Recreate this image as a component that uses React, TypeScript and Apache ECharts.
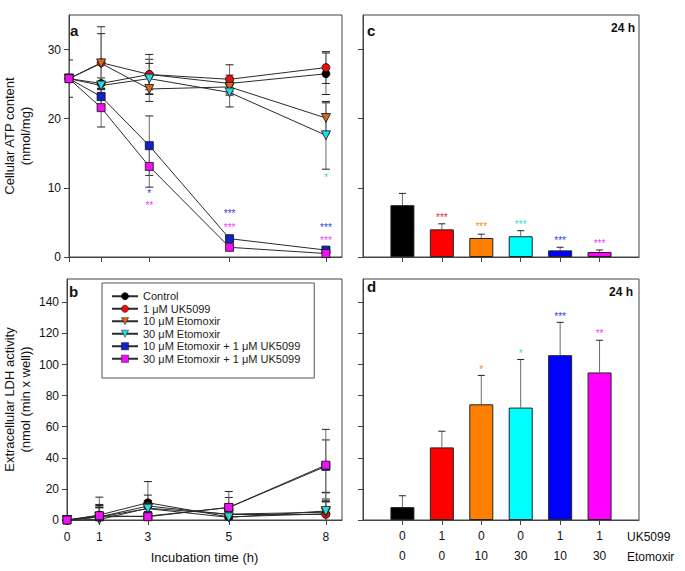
import React, { useEffect, useRef } from 'react';
import * as echarts from 'echarts';

const FONT = '"Liberation Sans", Arial, Helvetica, sans-serif';

// Time axis (h): plotted positions and their tick labels
const timePos = [0, 1, 2.5, 5, 8];
const timeLabels = ['0', '1', '3', '5', '8'];

const seriesNames = [
  'Control',
  '1 μM UK5099',
  '10 μM Etomoxir',
  '30 μM Etomoxir',
  '10 μM Etomoxir + 1 μM UK5099',
  '30 μM Etomoxir + 1 μM UK5099',
];
const markerColors = ['#000000', '#e8100c', '#d2691e', '#22dbe8', '#1022c8', '#f010f0'];
const barColors = ['#000000', '#ff0000', '#ff8000', '#00ffff', '#0000ff', '#ff00ff'];
const starColors = ['#000000', '#e03030', '#f09030', '#30e0e0', '#3040e0', '#f040f0'];
const symbols = ['circle', 'circle', 'triangle', 'triangle', 'rect', 'rect'];
const symbolRotates = [0, 0, 180, 180, 0, 0];
const symbolSizes = [8, 8, 9, 9, 8, 8];

// Panel a: cellular ATP content (nmol/mg)
const atpControl = [25.8, 25.1, 26.4, 25.1, 26.5];
const atpUK = [25.8, 28.1, 26.4, 25.7, 27.4];
const atpEto10 = [25.8, 28.0, 24.3, 24.6, 20.1];
const atpEto30 = [25.8, 24.8, 25.8, 23.8, 17.6];
const atpEto10UK = [25.8, 23.2, 16.1, 2.65, 1.0];
const atpEto30UK = [25.8, 21.6, 13.1, 1.4, 0.5];
const atpControlErr = [2.7, 0.8, 2.2, 1.2, 3.0];
const atpUKErr = [0, 5.2, 2.9, 2.1, 2.3];
const atpEto10Err = [0, 4.3, 1.8, 1.2, 2.2];
const atpEto30Err = [0, 0.6, 2.2, 2.1, 4.9];
const atpEto10UKErr = [0, 1.2, 4.3, 0.3, 0.3];
const atpEto30UKErr = [0, 2.8, 3.0, 0.3, 0.3];

// Panel b: extracellular LDH activity
const ldhControl = [0, 3.2, 11.1, 2.0, 4.0];
const ldhUK = [0, 2.0, 9.0, 3.5, 3.6];
const ldhEto10 = [0, 0.3, 7.6, 3.8, 5.0];
const ldhEto30 = [0, 2.0, 7.3, 1.7, 5.8];
const ldhEto10UK = [0, 2.0, 2.5, 8.0, 34.5];
const ldhEto30UK = [0, 2.8, 2.1, 8.1, 35.3];
const ldhControlErr = [0, 11.5, 13.6, 2.0, 9.5];
const ldhUKErr = [0, 8, 7, 2, 8];
const ldhEto10Err = [0, 9, 5, 3, 7];
const ldhEto30Err = [0, 7, 4, 1.5, 12];
const ldhEto10UKErr = [0, 6, 3, 6.5, 17];
const ldhEto30UKErr = [0, 5, 2, 10.2, 23];

// Panels c/d: 24 h
const barPos = [1, 2, 3, 4, 5, 6];
const ukDose = ['0', '1', '0', '0', '1', '1'];
const etoDose = ['0', '0', '10', '30', '10', '30'];
const atp24 = [7.5, 4.0, 2.75, 3.0, 0.96, 0.72];
const atp24Err = [1.7, 0.8, 0.55, 0.8, 0.45, 0.3];
const ldh24 = [8.3, 46.7, 74.4, 72.3, 106, 94.9];
const ldh24Err = [7.3, 10.4, 18.6, 30.9, 21.1, 20.7];

// Significance marks: [x, y, text, seriesIndex]
const starsA = [
  [2.5, 9.6, '*', 4], [2.5, 7.9, '**', 5],
  [5, 6.7, '***', 4], [5, 4.7, '***', 5],
  [8, 11.9, '*', 3], [8, 4.7, '***', 4], [8, 2.75, '***', 5],
];
const starsC = [
  [2, 6.2, '***', 1], [3, 4.8, '***', 2], [4, 5.2, '***', 3], [5, 2.85, '***', 4], [6, 2.4, '***', 5],
];
const starsD = [
  [3, 99, '*', 2], [4, 108.7, '*', 3], [5, 133, '***', 4], [6, 122, '**', 5],
];

const atpSets = [atpControl, atpUK, atpEto10, atpEto30, atpEto10UK, atpEto30UK];
const atpErrs = [atpControlErr, atpUKErr, atpEto10Err, atpEto30Err, atpEto10UKErr, atpEto30UKErr];
const ldhSets = [ldhControl, ldhUK, ldhEto10, ldhEto30, ldhEto10UK, ldhEto30UK];
const ldhErrs = [ldhControlErr, ldhUKErr, ldhEto10Err, ldhEto30Err, ldhEto10UKErr, ldhEto30UKErr];

const AXIS = '#444';

function errorSeries(idx: number, data: number[][], capHalf: number, upOnly: boolean) {
  return {
    type: 'custom',
    xAxisIndex: idx,
    yAxisIndex: idx,
    clip: true,
    silent: true,
    z: 2,
    encode: { x: 0, y: 1 },
    data,
    renderItem: (params: any, api: any) => {
      const x = api.value(0);
      const y = api.value(1);
      const e = api.value(2);
      if (!e) return { type: 'group', children: [] };
      const top = api.coord([x, y + e]);
      const bot = upOnly ? api.coord([x, y]) : api.coord([x, y - e]);
      const children: any[] = [
        { type: 'line', shape: { x1: top[0], y1: top[1], x2: bot[0], y2: bot[1] }, style: { stroke: '#6a6a6a', lineWidth: 1 } },
        { type: 'line', shape: { x1: top[0] - capHalf, y1: top[1], x2: top[0] + capHalf, y2: top[1] }, style: { stroke: '#222', lineWidth: 1 } },
      ];
      if (!upOnly) {
        children.push({ type: 'line', shape: { x1: bot[0] - capHalf, y1: bot[1], x2: bot[0] + capHalf, y2: bot[1] }, style: { stroke: '#222', lineWidth: 1 } });
      }
      return { type: 'group', children };
    },
  };
}

function starSeries(idx: number, stars: any[]) {
  return {
    type: 'custom',
    xAxisIndex: idx,
    yAxisIndex: idx,
    silent: true,
    z: 5,
    encode: { x: 0, y: 1 },
    data: stars.map((s) => [s[0], s[1]]),
    renderItem: (params: any, api: any) => {
      const s = stars[params.dataIndex];
      const p = api.coord([api.value(0), api.value(1)]);
      return {
        type: 'text',
        x: p[0],
        y: p[1] + 3,
        style: {
          text: s[2],
          fill: starColors[s[3]],
          font: `10px ${FONT}`,
          align: 'center',
          verticalAlign: 'middle',
          textAlign: 'center',
          textVerticalAlign: 'middle',
        },
      };
    },
  };
}

function gridOf(left: number, top: number, width: number, height: number) {
  return { left, top, width, height, show: true, borderColor: AXIS, borderWidth: 1, backgroundColor: 'transparent', containLabel: false };
}

const labelStyle = { color: '#111', fontFamily: FONT, fontSize: 12 };

function buildOption() {
  const series: any[] = [];
  // Panel a & b lines
  [0, 1].forEach((gi) => {
    const sets = gi === 0 ? atpSets : ldhSets;
    const errs = gi === 0 ? atpErrs : ldhErrs;
    sets.forEach((vals, si) => {
      series.push(errorSeries(gi, vals.map((v, i) => [timePos[i], v, errs[si][i]]), 4, false));
    });
    sets.forEach((vals, si) => {
      series.push({
        type: 'line',
        name: seriesNames[si],
        xAxisIndex: gi,
        yAxisIndex: gi,
        data: vals.map((v, i) => [timePos[i], v]),
        symbol: symbols[si],
        symbolRotate: symbolRotates[si],
        symbolSize: symbolSizes[si],
        showSymbol: true,
        z: 3,
        lineStyle: { color: '#2a2a2a', width: 1 },
        itemStyle: { color: markerColors[si], borderColor: '#111', borderWidth: 0.8 },
        emphasis: { disabled: true },
      });
    });
  });
  // Panels c & d bars
  [2, 3].forEach((gi) => {
    const vals = gi === 2 ? atp24 : ldh24;
    const errs = gi === 2 ? atp24Err : ldh24Err;
    series.push(errorSeries(gi, vals.map((v, i) => [barPos[i], v, errs[i]]), 3.5, true));
    series.push({
      type: 'bar',
      xAxisIndex: gi,
      yAxisIndex: gi,
      barWidth: 24,
      z: 3,
      data: vals.map((v, i) => ({ value: [barPos[i], v], itemStyle: { color: barColors[i] } })),
      itemStyle: { borderColor: '#222', borderWidth: 1 },
      emphasis: { disabled: true },
    });
  });
  series.push(starSeries(0, starsA));
  series.push(starSeries(2, starsC));
  series.push(starSeries(3, starsD));

  const tick = { show: true, inside: false, length: 5, lineStyle: { color: AXIS } };
  const axisLine = { show: true, onZero: false, lineStyle: { color: AXIS, width: 1 } };

  return {
    animation: false,
    backgroundColor: '#ffffff',
    textStyle: { fontFamily: FONT },
    grid: [
      gridOf(67, 15, 275, 242),
      gridOf(67, 279, 275, 241),
      gridOf(363, 15, 276, 242),
      gridOf(363, 279, 276, 241),
    ],
    xAxis: [
      {
        gridIndex: 0, type: 'value', min: 0, max: 8.5, axisLine, splitLine: { show: false },
        axisTick: { ...tick, customValues: timePos }, axisLabel: { show: false },
      },
      {
        gridIndex: 1, type: 'value', min: 0, max: 8.5, axisLine, splitLine: { show: false },
        axisTick: { ...tick, customValues: timePos },
        axisLabel: {
          ...labelStyle, margin: 11, customValues: timePos,
          formatter: (v: number) => { const i = timePos.indexOf(v); return i >= 0 ? timeLabels[i] : ''; },
        },
        name: 'Incubation time (h)', nameLocation: 'middle', nameGap: 31,
        nameTextStyle: { ...labelStyle, fontSize: 13 },
      },
      {
        gridIndex: 2, type: 'value', min: 0, max: 7, axisLine, splitLine: { show: false },
        axisTick: { ...tick, customValues: barPos }, axisLabel: { show: false },
      },
      {
        gridIndex: 3, type: 'value', min: 0, max: 7, axisLine, splitLine: { show: false },
        axisTick: { ...tick, customValues: barPos },
        axisLabel: {
          ...labelStyle, margin: 6, lineHeight: 20, customValues: barPos,
          formatter: (v: number) => { const i = barPos.indexOf(v); return i >= 0 ? `${ukDose[i]}\n${etoDose[i]}` : ''; },
        },
      },
    ],
    yAxis: [
      {
        gridIndex: 0, type: 'value', min: 0, max: 35, axisLine, splitLine: { show: false },
        axisTick: { ...tick, customValues: [0, 10, 20, 30] },
        axisLabel: { ...labelStyle, margin: 8, customValues: [0, 10, 20, 30] },
        name: 'Cellular ATP content\n(nmol/mg)', nameLocation: 'middle', nameGap: 36, nameRotate: 90,
        nameTextStyle: { ...labelStyle, fontSize: 13, lineHeight: 16 },
      },
      {
        gridIndex: 1, type: 'value', min: 0, max: 155, axisLine, splitLine: { show: false },
        axisTick: { ...tick, customValues: [0, 20, 40, 60, 80, 100, 120, 140] },
        axisLabel: { ...labelStyle, margin: 8, customValues: [0, 20, 40, 60, 80, 100, 120, 140] },
        name: 'Extracellular LDH activity\n(nmol (min x well))', nameLocation: 'middle', nameGap: 34, nameRotate: 90,
        nameTextStyle: { ...labelStyle, fontSize: 13, lineHeight: 16 },
      },
      {
        gridIndex: 2, type: 'value', min: 0, max: 35, axisLine, splitLine: { show: false },
        axisTick: { ...tick, customValues: [0, 10, 20, 30] }, axisLabel: { show: false },
      },
      {
        gridIndex: 3, type: 'value', min: 0, max: 155, axisLine, splitLine: { show: false },
        axisTick: { ...tick, customValues: [0, 20, 40, 60, 80, 100, 120, 140] }, axisLabel: { show: false },
      },
    ],
    legend: {
      data: seriesNames,
      orient: 'vertical',
      left: 102,
      top: 283,
      padding: [7, 14, 13, 9],
      itemWidth: 26,
      itemHeight: 9,
      itemGap: 0,
      selectedMode: false,
      borderColor: '#555',
      borderWidth: 1,
      backgroundColor: '#fff',
      itemStyle: { borderWidth: 0.5 },
      textStyle: { color: '#222', fontFamily: FONT, fontSize: 11, lineHeight: 12.5 },
    },
    graphic: [
      { type: 'text', x: 70, y: 30, style: { text: 'a', font: `bold 15px ${FONT}`, fill: '#111', verticalAlign: 'middle', textVerticalAlign: 'middle' } },
      { type: 'text', x: 69, y: 291, style: { text: 'b', font: `bold 15px ${FONT}`, fill: '#111', verticalAlign: 'middle', textVerticalAlign: 'middle' } },
      { type: 'text', x: 367, y: 30, style: { text: 'c', font: `bold 15px ${FONT}`, fill: '#111', verticalAlign: 'middle', textVerticalAlign: 'middle' } },
      { type: 'text', x: 367, y: 286, style: { text: 'd', font: `bold 15px ${FONT}`, fill: '#111', verticalAlign: 'middle', textVerticalAlign: 'middle' } },
      { type: 'text', x: 635, y: 28, style: { text: '24 h', font: `bold 12px ${FONT}`, fill: '#111', align: 'right', textAlign: 'right', verticalAlign: 'middle', textVerticalAlign: 'middle' } },
      { type: 'text', x: 633, y: 292, style: { text: '24 h', font: `bold 12px ${FONT}`, fill: '#111', align: 'right', textAlign: 'right', verticalAlign: 'middle', textVerticalAlign: 'middle' } },
      { type: 'text', x: 627, y: 537, style: { text: 'UK5099', font: `12px ${FONT}`, fill: '#111', verticalAlign: 'middle', textVerticalAlign: 'middle' } },
      { type: 'text', x: 627, y: 557, style: { text: 'Etomoxir', font: `12px ${FONT}`, fill: '#111', verticalAlign: 'middle', textVerticalAlign: 'middle' } },
    ],
    series,
  };
}

export default function App() {
  const ref = useRef<HTMLDivElement>(null);
  useEffect(() => {
    if (!ref.current) return;
    const chart = echarts.init(ref.current, undefined, { renderer: 'svg' });
    chart.setOption(buildOption() as any);
    return () => chart.dispose();
  }, []);
  return (
    <div
      ref={ref}
      style={{ position: 'fixed', left: 0, top: 0, width: 685, height: 571, background: '#fff' }}
    />
  );
}
